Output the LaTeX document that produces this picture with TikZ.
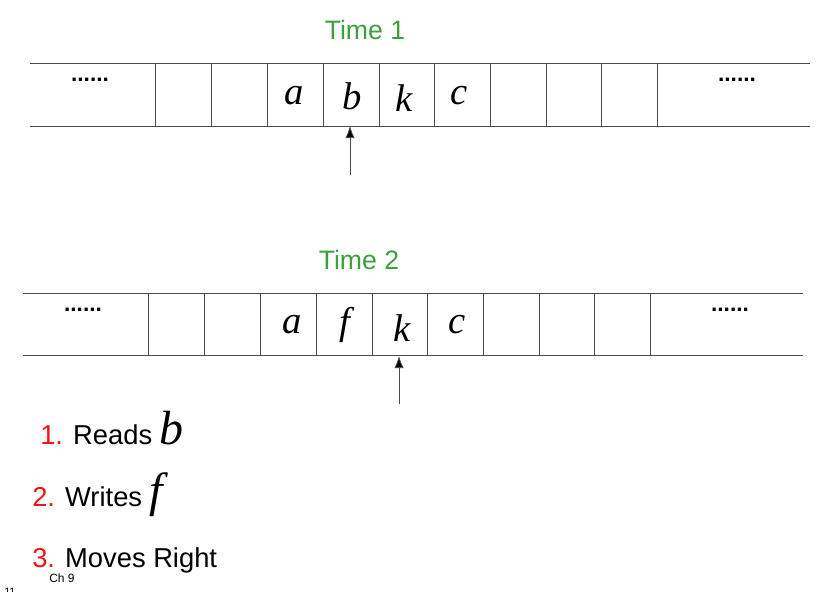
\documentclass[tikz,border=0pt]{standalone}
\usepackage{fontspec}
\setmainfont{Liberation Sans}
\newfontfamily\serifit{Liberation Serif}
\definecolor{tgreen}{RGB}{60,160,60}
\definecolor{tred}{RGB}{240,20,20}
\begin{document}
\begin{tikzpicture}[x=0.75pt,y=-0.75pt,
  tline/.style={draw=black!70,line width=0.6pt},
  sym/.style={font=\serifit\itshape\fontsize{29}{29}\selectfont},
  dots/.style={font=\bfseries\fontsize{17}{17}\selectfont},
  lbl/.style={font=\fontsize{20.5}{20.5}\selectfont,anchor=base west,inner sep=0pt},
  harrow/.style={draw=black!70,line width=0.6pt,-{Latex[length=9pt,width=7pt,fill=black]}}]
\usetikzlibrary{arrows.meta}
\useasboundingbox (0,0) rectangle (839,592);
% tape 1
\draw[tline] (30,63) -- (810,63) (30,126) -- (810,126);
\foreach \x in {155,211,267,323,379,434,490,546,601,657} \draw[tline] (\x,63) -- (\x,126);
\node[dots] (d1) at (90,80) {......};
\node[dots] (d2) at (737,80) {......};
\node[sym] (a1) at (294,96) {a};
\node[sym] (b1) at (352,96) {b};
\node[sym] (k1) at (404,98) {k};
\node[sym] (c1) at (459,96) {c};
\coordinate (h1s) at (350,175); \coordinate (h1e) at (350,126);
\draw[harrow] (h1s) -- (h1e);
\node[text=tgreen,font=\fontsize{20}{20}\selectfont] (t1) at (365,30) {Time 1};
% tape 2
\draw[tline] (23,293) -- (803,293) (23,355) -- (803,355);
\foreach \x in {148,204,260,316,372,427,483,539,594,650} \draw[tline] (\x,293) -- (\x,355);
\node[dots] (d3) at (83,310) {......};
\node[dots] (d4) at (730,310) {......};
\node[sym] (a2) at (292,325) {a};
\node[sym] (f2) at (345,325) {f};
\node[sym] (k2) at (402,328) {k};
\node[sym] (c2) at (457,325) {c};
\coordinate (h2s) at (399,404); \coordinate (h2e) at (399,356);
\draw[harrow] (h2s) -- (h2e);
\node[text=tgreen,font=\fontsize{20}{20}\selectfont] (t2) at (359,260) {Time 2};
% list
\node[lbl] (l1) at (40,444) {\textcolor{tred}{1.} Reads {\serifit\itshape\fontsize{36}{36}\selectfont b}};
\node[lbl] (l2) at (32,506) {\textcolor{tred}{2.} Writes {\serifit\itshape\fontsize{36}{36}\selectfont f}};
\node[lbl] (l3) at (32,567) {\textcolor{tred}{3.} Moves Right};
\node[font=\fontsize{9}{9}\selectfont] (ch) at (62,578) {Ch 9};
\node[font=\fontsize{8}{8}\selectfont,anchor=north west,inner sep=0pt] (pg) at (4,588) {11};
\end{tikzpicture}
\end{document}
